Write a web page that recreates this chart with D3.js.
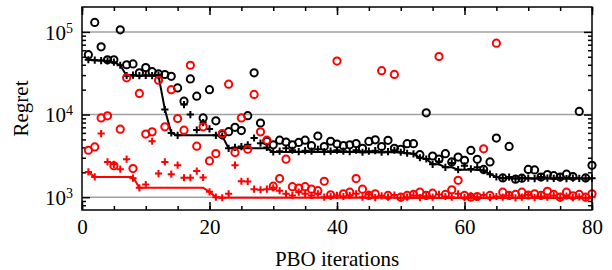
<!DOCTYPE html>
<html>
<head>
<meta charset="utf-8">
<script src="https://cdn.jsdelivr.net/npm/d3@7"></script>
<style>
  body { margin: 0; background: #fff; }
  text { font-family: "Liberation Serif", "Times New Roman", serif; fill: #000; }
</style>
</head>
<body>
<div id="chart"></div>
<script>
// Iterations 1..80
var iterations = d3.range(1, 81);

var blackCircles = [53000,130000,66000,46000,46000,106000,40000,41000,32000,37000,
  33000,31000,30500,29000,21000,14500,27000,16700,9100,20000,
  8400,5700,6200,7000,6400,9700,32000,7900,4750,4300,
  4900,4650,4300,4600,4900,4200,5500,4100,4750,4400,
  4200,4300,4450,3900,4730,4950,4100,4870,3900,3800,
  4440,4440,3270,10500,3150,2900,3360,2670,3060,2790,
  3680,2870,2170,2670,5190,1710,4110,1650,1700,2170,
  2140,1750,1880,1820,1750,1900,1780,10900,1710,2430];

var blackPluses = [46000,45500,45000,44500,43000,39500,29500,30000,29500,29800,
  29500,30000,11500,6000,5600,13200,10000,6500,8000,6700,
  5600,5500,3900,4000,4100,4300,5200,4500,4000,3530,
  3600,3900,3700,3550,3650,3600,3800,3550,3600,3700,
  3600,3550,3700,3500,3600,3650,3500,3550,3700,3500,
  3400,3350,3000,2900,2500,2700,2300,2600,2150,2400,
  2200,2300,2100,1900,1760,1700,1750,1680,1720,1700,
  1680,1750,1700,1690,1720,1680,1700,1690,1680,1700];

var blackBest = [46000,45500,45000,44500,43000,39500,29500,29500,29500,29500,
  29500,29500,11500,6000,5600,5600,5600,5600,5600,5600,
  5600,5500,3900,3900,3900,3900,3900,3900,3900,3530,
  3530,3530,3530,3530,3530,3530,3530,3530,3530,3530,
  3530,3530,3530,3500,3500,3500,3500,3500,3500,3500,
  3400,3350,3000,2900,2500,2500,2300,2300,2150,2150,
  2150,2150,2100,1900,1760,1700,1700,1680,1680,1680,
  1680,1680,1680,1680,1680,1680,1680,1680,1680,1680];

var redCircles = [3700,4060,9100,9650,2400,6650,27800,2220,18000,5800,
  6170,26000,7100,20000,8960,6460,39500,4140,7100,2750,
  3370,5890,23300,3470,9100,3800,17500,6170,4900,1360,
  1680,2880,1340,1290,1340,1250,1200,1560,1070,44300,
  1100,1150,1680,1250,1050,1100,33900,1050,30600,1000,
  1050,1080,1150,1050,1120,50400,1080,1230,1600,1050,
  1000,1020,3850,1050,73000,1150,1050,1080,1150,1060,
  1100,1050,1180,1080,1000,1150,1040,1080,1000,1100];

var redPluses = [2020,1760,5890,2670,2500,2180,2880,1700,1300,1420,
  4750,1930,2670,1900,2440,1720,1720,2070,1730,1160,
  1000,985,1100,2440,1560,1550,1250,1230,1250,1300,
  1200,1100,1050,1150,1100,1050,1100,1000,1020,1050,
  1020,1050,1100,1000,1080,990,1040,1000,1060,980,
  1000,1050,990,1030,1000,1080,1020,1000,1100,990,
  1040,1000,1060,990,1020,1000,1050,980,1000,1060,
  990,1020,1000,1050,980,1030,990,1010,980,1000];

var redBest = [2020,1760,1760,1760,1760,1760,1760,1760,1300,1300,
  1300,1300,1300,1300,1300,1300,1300,1300,1300,1160,
  1000,985,985,985,985,985,985,985,985,985,
  985,985,985,985,985,985,985,985,985,985,
  985,985,985,985,985,985,985,985,985,980,
  980,980,980,980,980,980,980,980,980,980,
  980,980,980,980,980,980,980,980,980,980,
  980,980,980,980,980,980,980,980,980,980];

var xTicks = [0, 20, 40, 60, 80];
var xMinorTicks = d3.range(0, 81, 5);
var yTicks = [1e3, 1e4, 1e5];
var yMinorTicks = [800, 900, 2000, 3000, 4000, 5000, 6000, 7000, 8000, 9000,
  20000, 30000, 40000, 50000, 60000, 70000, 80000, 90000];

var width = 612, height = 270;
var margin = { left: 82, right: 20, top: 7, bottom: 60 };
var plotW = width - margin.left - margin.right;
var plotH = height - margin.top - margin.bottom;

var x = d3.scaleLinear().domain([0, 80]).range([0, plotW]);
var y = d3.scaleLog().domain([700, 200000]).range([plotH, 0]);

var svg = d3.select('#chart').append('svg')
  .attr('width', width)
  .attr('height', height);

var g = svg.append('g')
  .attr('transform', 'translate(' + margin.left + ',' + margin.top + ')');

// Gridlines at the decades.
g.selectAll('.grid')
  .data(yTicks)
  .enter().append('line')
  .attr('x1', 0).attr('x2', plotW)
  .attr('y1', d => y(d)).attr('y2', d => y(d))
  .attr('stroke', '#a0a0a0')
  .attr('stroke-width', 1.5);

function styleAxis(sel) {
  sel.select('.domain').remove();
  sel.selectAll('.tick line').attr('stroke', '#000').attr('stroke-width', 1.5);
  sel.selectAll('text').attr('font-size', 21);
}

// Bottom and top ticks point inward.
g.append('g').attr('transform', 'translate(0,' + plotH + ')')
  .call(d3.axisBottom(x).tickValues(xMinorTicks).tickSize(-4).tickFormat(''))
  .call(styleAxis);
g.append('g').attr('transform', 'translate(0,' + plotH + ')')
  .call(d3.axisBottom(x).tickValues(xTicks).tickSize(-8).tickPadding(9).tickFormat(d3.format('d')))
  .call(styleAxis);
g.append('g')
  .call(d3.axisTop(x).tickValues(xMinorTicks).tickSize(-4).tickFormat(''))
  .call(styleAxis);
g.append('g')
  .call(d3.axisTop(x).tickValues(xTicks).tickSize(-8).tickFormat(''))
  .call(styleAxis);

// Left and right log ticks.
g.append('g')
  .call(d3.axisLeft(y).tickValues(yMinorTicks).tickSize(-4).tickFormat(''))
  .call(styleAxis);
var yAxis = g.append('g')
  .call(d3.axisLeft(y).tickValues(yTicks).tickSize(-8).tickPadding(9).tickFormat(''))
  .call(styleAxis);
g.append('g').attr('transform', 'translate(' + plotW + ',0)')
  .call(d3.axisRight(y).tickValues(yMinorTicks).tickSize(-4).tickFormat(''))
  .call(styleAxis);
g.append('g').attr('transform', 'translate(' + plotW + ',0)')
  .call(d3.axisRight(y).tickValues(yTicks).tickSize(-8).tickFormat(''))
  .call(styleAxis);

// 10^k labels with superscript.
yAxis.selectAll('.tick text').each(function(d) {
  var t = d3.select(this).attr('dy', '0.34em');
  t.append('tspan').text('10');
  t.append('tspan').attr('font-size', 14).attr('dy', '-0.5em').text(Math.round(Math.log10(d)));
});

var plus = 'M-3.6,0H3.6M0,-3.6V3.6';

function drawSeries(circles, pluses, best, color) {
  g.append('g').selectAll('circle')
    .data(iterations)
    .enter().append('circle')
    .attr('cx', d => x(d))
    .attr('cy', (d, i) => y(circles[i]))
    .attr('r', 3.6)
    .attr('fill', 'none')
    .attr('stroke', color)
    .attr('stroke-width', 2);

  g.append('g').selectAll('path')
    .data(iterations)
    .enter().append('path')
    .attr('d', plus)
    .attr('transform', (d, i) => 'translate(' + x(d) + ',' + y(pluses[i]) + ')')
    .attr('stroke', color)
    .attr('stroke-width', 2);

  var line = d3.line()
    .x(d => x(d))
    .y((d, i) => y(best[i]));

  g.append('path')
    .datum(iterations)
    .attr('d', line)
    .attr('fill', 'none')
    .attr('stroke', color)
    .attr('stroke-width', 2);
}

drawSeries(blackCircles, blackPluses, blackBest, '#000');
drawSeries(redCircles, redPluses, redBest, '#ff0000');

// Frame.
g.append('rect')
  .attr('width', plotW).attr('height', plotH)
  .attr('fill', 'none')
  .attr('stroke', '#000')
  .attr('stroke-width', 1.5);

// Axis titles.
svg.append('text')
  .attr('x', margin.left + plotW / 2)
  .attr('y', 266)
  .attr('text-anchor', 'middle')
  .attr('font-size', 21)
  .text('PBO iterations');

svg.append('text')
  .attr('transform', 'translate(28,' + (margin.top + plotH / 2) + ') rotate(-90)')
  .attr('text-anchor', 'middle')
  .attr('font-size', 21)
  .text('Regret');
</script>
</body>
</html>
